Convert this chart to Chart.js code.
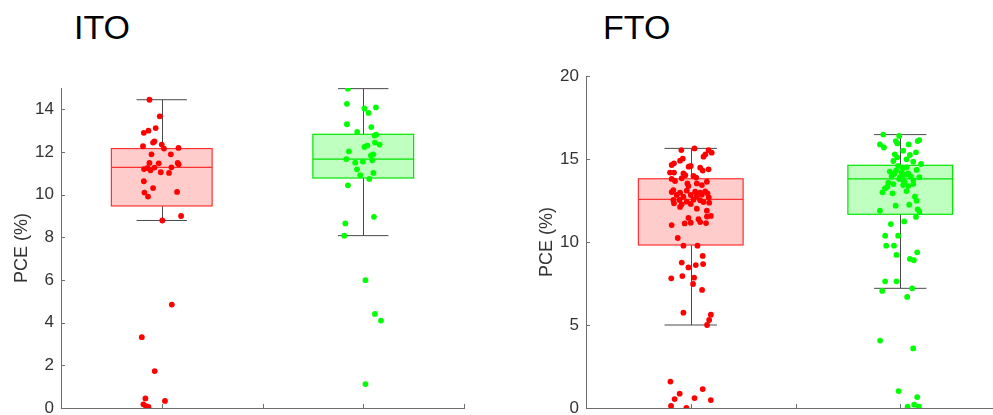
<!DOCTYPE html>
<html>
<head>
<meta charset="utf-8">
<script src="https://cdn.jsdelivr.net/npm/chart.js@4"></script>
<style>
  html, body { margin: 0; padding: 0; background: #fff; overflow: hidden; }
  body { width: 993px; height: 415px; position: relative; }
  .panel { position: absolute; top: 0; }
  .title { position: absolute; top: 10px; font: 34px "Liberation Sans", Arial, sans-serif; line-height: 1; color: #000; }
</style>
</head>
<body>
<div class="title" style="left:74px">ITO</div>
<div class="title" style="left:603px">FTO</div>
<div class="panel" style="left:0"><canvas id="itoChart" width="470" height="415"></canvas></div>
<div class="panel" style="left:520px"><canvas id="ftoChart" width="490" height="415"></canvas></div>
<script>
// jittered PCE values, x holds the group position (1 = red group, 2 = green group)
const itoRedX = [0.939,0.990,0.970,0.934,0.911,0.964,0.957,0.907,1.000,1.011,1.083,0.949,1.045,0.939,0.985,1.079,1.084,0.912,0.929,0.944,0.964,1.048,0.995,1.036,0.911,0.957,0.914,0.932,1.076,1.096,1.003,1.050,0.901,0.965,0.919,1.016,0.909,0.922,0.934];
const itoRedY = [14.45,13.67,13.12,13.0,12.9,12.5,12.44,12.27,12.35,12.16,12.19,11.89,11.89,11.49,11.47,11.49,11.42,11.2,11.25,11.14,11.27,11.28,11.05,11.02,10.63,10.31,10.1,9.91,10.13,9.0,8.79,4.85,3.32,1.73,0.45,0.33,0.17,0.09,0.05];

const itoGreenX = [1.924,1.919,2.006,2.063,2.026,1.919,2.040,1.970,2.064,2.056,2.058,2.081,2.020,2.006,1.929,2.038,2.050,1.916,1.960,1.998,2.045,1.969,2.050,1.985,2.030,1.924,2.053,1.911,1.906,2.011,2.058,2.088,2.011];
const itoGreenY = [14.97,14.26,14.04,14.09,13.83,13.3,13.17,12.94,12.81,12.77,12.44,12.35,12.3,12.24,12.03,11.84,11.89,11.67,11.5,11.55,11.61,11.19,11.02,10.91,10.74,10.44,8.96,8.65,8.08,5.99,4.41,4.1,1.12];

const ftoRedX = [1.018,0.955,1.085,1.100,1.070,1.061,0.962,0.949,0.920,0.909,1.000,0.990,1.045,1.085,1.057,0.901,0.920,0.965,0.974,1.013,1.026,0.909,0.925,0.957,0.984,1.029,1.053,1.077,0.989,0.917,0.949,0.909,0.981,1.021,1.045,1.069,1.080,0.933,0.965,1.000,1.029,1.053,1.086,0.917,0.946,0.981,1.013,1.045,0.920,0.957,1.000,1.061,1.088,0.949,1.029,1.077,0.989,1.037,1.045,1.000,1.077,1.096,0.909,0.971,1.073,0.938,0.965,1.032,1.057,0.957,1.024,1.059,0.989,0.907,0.960,1.016,1.011,1.054,0.965,1.096,1.088,1.078,0.903,1.057,0.947,0.923,1.018,1.096,0.906,0.979];
const ftoRedY = [15.64,15.54,15.54,15.38,15.28,15.14,15.02,14.9,14.74,14.64,14.58,14.54,14.48,14.38,14.3,14.18,14.18,14.14,14.02,13.98,13.88,13.8,13.67,13.84,13.53,13.53,13.43,13.63,13.37,13.13,12.97,13.01,13.09,13.03,12.97,13.05,12.93,12.83,12.73,12.83,12.77,12.85,12.69,12.53,12.53,12.43,12.55,12.51,12.33,12.27,12.29,12.41,12.37,12.11,12.01,11.89,11.45,11.37,11.2,11.16,11.53,11.57,11.02,11.12,11.14,10.24,9.78,9.78,9.16,8.76,8.61,8.67,8.47,7.81,7.95,7.85,7.47,7.11,5.74,5.62,5.3,5.0,1.59,1.14,0.86,0.54,0.6,0.48,0.12,0.0];

const ftoGreenX = [1.919,1.995,1.903,1.922,1.979,1.986,2.040,2.083,2.091,2.014,2.075,1.974,1.986,2.046,2.030,1.967,2.062,2.099,1.990,2.011,2.030,1.950,1.971,2.006,2.022,2.038,2.078,2.091,1.959,1.995,2.014,2.062,1.943,1.967,1.939,2.014,2.038,2.062,1.927,1.915,2.030,1.963,2.070,2.078,1.978,2.043,1.903,2.083,2.091,2.075,2.019,1.955,1.928,1.990,1.933,1.970,1.982,2.081,2.046,2.065,1.928,1.982,1.914,2.057,2.033,1.904,2.062,1.992,2.081,2.067,2.035,2.089,2.000,2.020,1.980,2.050];
const ftoGreenY = [16.47,16.39,15.88,15.7,16.08,15.94,15.88,16.08,16.14,15.5,15.4,15.28,15.1,15.24,14.98,14.88,14.84,14.7,14.58,14.44,14.5,14.24,14.1,14.18,14.04,14.14,14.34,13.9,13.96,13.8,13.73,13.73,13.57,13.49,13.33,13.43,13.37,13.49,13.23,12.99,13.07,12.93,12.73,12.49,12.19,12.25,11.89,11.97,11.83,11.51,11.24,11.08,10.38,10.38,9.78,9.78,9.22,9.38,8.98,8.9,7.63,7.63,7.05,7.21,6.69,4.06,3.59,1.02,0.66,0.2,0.08,0.08,13.9,13.6,14.3,13.95];

// box statistics per group: [red, green]
const groupPos = [1, 2];
const itoQ1 = [9.47, 10.78], itoMed = [11.28, 11.67], itoQ3 = [12.16, 12.83];
const itoLo = [8.79, 8.08], itoHi = [14.45, 14.97];
const ftoQ1 = [9.82, 11.67], ftoMed = [12.57, 13.8], ftoQ3 = [13.81, 14.62];
const ftoLo = [5.0, 7.21], ftoHi = [15.64, 16.47];

const RED = '#ff0000', GREEN = '#00ff00';
const boxFill = ['rgba(255,0,0,0.2)', 'rgba(0,255,0,0.25)'];
const boxEdge = ['#ff3030', '#00e600'];
const AXIS = '#6e6e6e', TEXT = '#333333', WHISKER = '#4a4a4a';
const FONT = '"Liberation Sans", Arial, sans-serif';

function points(xs, ys) {
  return xs.map((x, i) => ({ x, y: ys[i] }));
}

// boxes and whiskers, drawn under the scatter points
const boxPlot = {
  id: 'boxPlot',
  beforeDatasetsDraw(chart, args, opts) {
    const { ctx, scales: { x, y } } = chart;
    ctx.save();
    opts.pos.forEach((p, i) => {
      const xl = x.getPixelForValue(p - 0.25), xr = x.getPixelForValue(p + 0.25);
      const cl = x.getPixelForValue(p - 0.125), cr = x.getPixelForValue(p + 0.125);
      const xc = Math.round(x.getPixelForValue(p)) + 0.5;
      const yq1 = y.getPixelForValue(opts.q1[i]), yq3 = y.getPixelForValue(opts.q3[i]);
      const ym = y.getPixelForValue(opts.med[i]);
      const ylo = y.getPixelForValue(opts.lo[i]), yhi = y.getPixelForValue(opts.hi[i]);

      ctx.strokeStyle = WHISKER;
      ctx.lineWidth = 1;
      ctx.beginPath();
      ctx.moveTo(xc, yq3); ctx.lineTo(xc, yhi);
      ctx.moveTo(xc, yq1); ctx.lineTo(xc, ylo);
      ctx.moveTo(cl, yhi); ctx.lineTo(cr, yhi);
      ctx.moveTo(cl, ylo); ctx.lineTo(cr, ylo);
      ctx.stroke();

      ctx.fillStyle = opts.fill[i];
      ctx.fillRect(xl, yq3, xr - xl, yq1 - yq3);
      ctx.strokeStyle = opts.edge[i];
      ctx.lineWidth = 1.2;
      ctx.strokeRect(xl, yq3, xr - xl, yq1 - yq3);
      ctx.beginPath();
      ctx.moveTo(xl, ym); ctx.lineTo(xr, ym);
      ctx.stroke();
    });
    ctx.restore();
  }
};

// MATLAB style tick marks pointing into the plot
const inwardTicks = {
  id: 'inwardTicks',
  afterDraw(chart) {
    const { ctx, chartArea: a, scales: { x, y } } = chart;
    const len = 4;
    ctx.save();
    ctx.strokeStyle = AXIS;
    ctx.lineWidth = 1;
    ctx.beginPath();
    y.ticks.forEach(t => {
      const py = Math.round(y.getPixelForValue(t.value)) + 0.5;
      ctx.moveTo(a.left, py); ctx.lineTo(a.left + len, py);
    });
    x.ticks.forEach(t => {
      const px = Math.round(x.getPixelForValue(t.value)) + 0.5;
      ctx.moveTo(px, a.bottom); ctx.lineTo(px, a.bottom - len);
    });
    ctx.stroke();
    ctx.restore();
  }
};

function makePanel(id, o) {
  return new Chart(document.getElementById(id), {
    type: 'scatter',
    data: {
      datasets: [
        { data: o.red, backgroundColor: RED, borderWidth: 0, pointRadius: 2.9 },
        { data: o.green, backgroundColor: GREEN, borderWidth: 0, pointRadius: 2.9 }
      ]
    },
    plugins: [boxPlot, inwardTicks],
    options: {
      responsive: false,
      animation: false,
      events: [],
      layout: { padding: o.padding },
      scales: {
        x: {
          type: 'linear', min: 0.5, max: 2.5,
          ticks: { display: false, stepSize: 0.5 },
          grid: { display: false, drawTicks: false },
          border: { display: true, color: AXIS, width: 1 },
          afterFit: s => { s.height = 0; s.paddingLeft = 0; s.paddingRight = 0; }
        },
        y: {
          type: 'linear', min: 0, max: o.yMax,
          ticks: { stepSize: o.yStep, padding: 7, color: TEXT, font: { family: FONT, size: 17 } },
          afterBuildTicks: s => { s.ticks = s.ticks.filter(t => t.value % o.yStep === 0); },
          grid: { display: false, drawTicks: false },
          border: { display: true, color: AXIS, width: 1 },
          title: { display: true, text: 'PCE (%)', color: TEXT, font: { family: FONT, size: 18 }, padding: { top: o.titlePad, bottom: 0 } },
          afterFit: s => { s.width = o.axisWidth; s.paddingTop = 0; s.paddingBottom = 0; }
        }
      },
      plugins: {
        legend: { display: false },
        tooltip: { enabled: false },
        boxPlot: o.box
      }
    }
  });
}

makePanel('itoChart', {
  red: points(itoRedX, itoRedY),
  green: points(itoGreenX, itoGreenY),
  yMax: 15, yStep: 2, axisWidth: 61, titlePad: 11,
  padding: { top: 88, right: 6, bottom: 7, left: 0 },
  box: { pos: groupPos, q1: itoQ1, med: itoMed, q3: itoQ3, lo: itoLo, hi: itoHi, fill: boxFill, edge: boxEdge }
});

makePanel('ftoChart', {
  red: points(ftoRedX, ftoRedY),
  green: points(ftoGreenX, ftoGreenY),
  yMax: 20, yStep: 5, axisWidth: 66, titlePad: 16,
  padding: { top: 76, right: 5, bottom: 7, left: 0 },
  box: { pos: groupPos, q1: ftoQ1, med: ftoMed, q3: ftoQ3, lo: ftoLo, hi: ftoHi, fill: boxFill, edge: boxEdge }
});
</script>
</body>
</html>
